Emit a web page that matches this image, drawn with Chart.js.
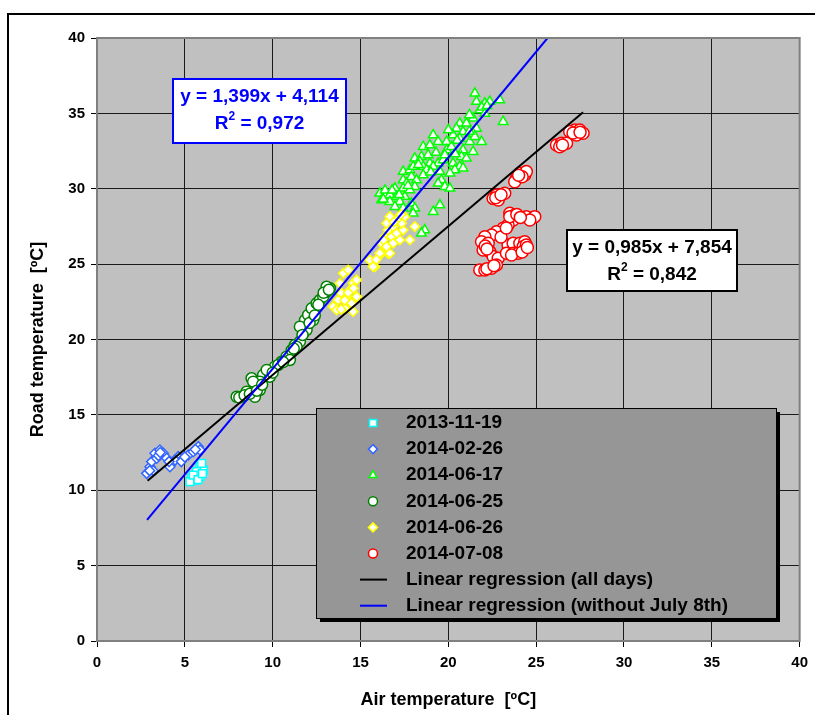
<!DOCTYPE html>
<html>
<head>
<meta charset="utf-8">
<script src="https://cdn.jsdelivr.net/npm/chart.js@4/dist/chart.umd.min.js"></script>
<style>
  html, body { margin: 0; padding: 0; background: #fff; }
  #wrap { width: 815px; height: 715px; }
</style>
</head>
<body>
<div id="wrap"><canvas id="c" width="815" height="715"></canvas></div>
<script>
// ---------- DATA ----------
const seriesLabels = ['2013-11-19', '2014-02-26', '2014-06-17', '2014-06-25', '2014-06-26', '2014-07-08'];
const lineLabels = ['Linear regression (all days)', 'Linear regression (without July 8th)'];
const xTicks = [0, 5, 10, 15, 20, 25, 30, 35, 40];
const yTicks = [0, 5, 10, 15, 20, 25, 30, 35, 40];

const d131119X = [5.86, 6.05, 5.58, 5.39, 5.86, 5.67, 5.29, 5.96, 5.48, 5.75, 6.0];
const d131119Y = [11.56, 11.34, 10.68, 10.79, 10.9, 11.23, 10.57, 11.79, 11.0, 10.7, 11.1];

const d140226X = [2.83, 3.02, 3.11, 3.30, 3.58, 3.77, 3.97, 4.25, 4.63, 4.91, 5.2, 5.48, 5.77, 5.86, 4.15, 3.40, 4.44, 3.2, 3.5, 4.8,
  3.0, 3.6, 4.1, 5.0, 5.6];
const d140226Y = [11.12, 11.56, 11.9, 12.45, 12.67, 12.45, 12.12, 11.79, 12.23, 12.12, 12.34, 12.56, 12.89, 12.67, 11.56, 12.12, 12.0, 11.3, 12.3, 11.9,
  11.3, 12.5, 11.9, 12.2, 12.7];

const d140617X = [21.51, 21.6, 22.08, 22.36, 22.93, 23.12, 21.79, 22.08, 21.41, 20.65, 21.03, 21.6, 20.46, 21.41, 20.84, 20.27, 20.65, 21.22, 21.89, 21.51,
  19.9, 19.14, 19.42, 18.57, 18.95, 19.9, 20.18, 20.84, 21.41, 20.75, 21.03, 18.09, 18.47, 18.85, 18.38, 18.95, 19.42, 19.71, 19.8, 20.27,
  20.65, 20.37, 20.84, 17.43, 17.81, 18.0, 18.57, 18.76, 19.14, 19.52, 20.09, 17.43, 17.9, 18.19, 18.57, 19.61, 19.42, 19.8, 20.09, 17.62,
  16.96, 17.43, 18.09, 16.1, 16.39, 16.67, 17.05, 17.52, 16.2, 16.67, 17.24, 17.9, 18.09, 16.96, 17.43, 19.52, 19.14, 18.0, 18.66, 18.47, 17.81,
  21.2, 21.9, 22.2, 20.0, 20.5, 19.3, 18.3, 17.7, 16.4, 16.8, 17.2, 20.4, 21.2, 16.3, 19.0];
const d140617Y = [36.33, 35.78, 35.67, 35.78, 35.89, 34.45, 35.22, 35.0, 34.67, 34.34, 34.34, 34.0, 34.0, 33.67, 33.78, 33.56, 33.34, 33.12, 33.12, 33.45,
  33.12, 33.56, 33.12, 32.79, 32.9, 32.57, 32.79, 32.57, 32.46, 32.13, 32.02, 32.02, 32.13, 32.24, 31.8, 31.69, 31.69, 31.91, 32.24, 31.69,
  31.47, 31.25, 31.36, 31.14, 31.25, 31.47, 31.47, 31.25, 31.47, 31.14, 31.03, 30.58, 30.8, 30.58, 30.91, 30.58, 30.36, 30.14, 30.03, 30.36,
  30.03, 30.03, 30.14, 29.7, 29.59, 29.59, 29.48, 29.48, 29.25, 29.14, 29.14, 29.03, 28.71, 28.81, 28.71, 28.92, 28.48, 28.37, 27.26, 27.04, 29.92,
  34.9, 35.4, 35.5, 33.9, 33.2, 32.4, 31.6, 30.2, 29.9, 29.9, 29.6, 32.3, 33.8, 29.3, 31.1];

const d140625X = [7.95, 8.23, 8.52, 8.80, 8.99, 9.27, 9.46, 9.84, 10.13, 10.51, 10.79, 11.08, 11.27, 11.55, 11.74, 11.93, 11.84, 12.02, 12.22, 12.5,
  12.69, 12.88, 13.07, 13.26, 13.07, 11.55, 11.36, 10.98, 10.32, 9.27, 8.89, 9.66, 12.31,
  8.1, 8.4, 8.7, 9.1, 9.4, 10.0, 10.6, 11.2, 11.7, 12.1, 12.6, 12.9, 13.2, 12.4];
const d140625Y = [16.2, 16.2, 16.54, 17.43, 16.2, 16.65, 17.65, 17.53, 18.2, 18.53, 18.86, 19.3, 19.64, 19.86, 20.41, 20.63, 21.29, 21.63, 22.07, 22.4,
  22.62, 22.84, 23.17, 23.4, 23.5, 20.85, 19.52, 18.64, 18.31, 17.2, 17.2, 17.98, 21.29,
  16.15, 16.3, 16.4, 16.6, 17.0, 17.8, 18.5, 19.4, 20.3, 21.1, 22.3, 23.1, 23.3, 21.6];

const d140626X = [14.02, 14.30, 14.58, 14.78, 13.45, 13.73, 13.92, 14.21, 14.49, 14.58, 14.11, 13.64, 13.83, 14.40, 14.78, 15.53, 15.82, 16.2, 16.57,
  15.72, 16.10, 16.2, 16.39, 16.67, 16.57, 16.48, 16.67, 16.86, 16.77, 17.05, 17.24, 17.43, 17.34, 17.05, 17.52, 17.81, 18.09, 16.48, 16.86,
  14.1, 14.3, 13.9, 14.6, 16.3, 16.9, 17.3, 15.9];
const d140626Y = [24.39, 24.61, 23.73, 23.95, 22.18, 22.62, 23.07, 22.84, 22.4, 21.85, 22.07, 21.96, 23.73, 23.28, 22.84, 25.27, 24.83, 25.72, 25.72,
  24.83, 25.72, 26.38, 26.82, 25.72, 27.26, 27.71, 28.15, 27.49, 26.82, 27.04, 26.6, 27.26, 27.71, 27.93, 28.15, 26.6, 27.49, 26.16, 26.38,
  22.6, 23.1, 22.0, 23.4, 26.6, 27.8, 28.3, 25.3];

const d140708X = [27.2, 27.48, 26.91, 27.67, 27.3, 26.16, 26.44, 26.73, 26.34, 24.07, 23.88, 24.35, 23.78, 24.44, 22.74, 22.55, 22.93, 23.21, 22.84,
  23.5, 23.78, 23.69, 24.44, 24.92, 24.64, 23.4, 23.12, 22.74, 22.46, 22.08, 21.89, 22.27, 21.98, 22.36, 22.55, 22.84, 21.79, 22.08, 22.46, 22.74,
  23.4, 23.69, 24.07, 24.35, 23.31, 23.69, 23.97, 24.26, 24.44, 23.5,
  27.1, 27.5, 26.5, 24.2, 24.0, 22.7, 23.0, 22.2, 22.6, 23.0, 23.3, 23.9, 24.1, 23.6, 24.2, 24.5, 22.1, 22.2];
const d140708Y = [33.9, 33.9, 33.79, 33.68, 33.56, 32.9, 33.02, 33.02, 32.79, 31.03, 30.69, 30.91, 30.47, 31.14, 29.59, 29.36, 29.48, 29.7, 29.25,
  28.37, 28.26, 27.93, 28.15, 28.15, 27.93, 27.6, 27.38, 27.15, 26.93, 26.82, 26.49, 26.38, 25.94, 25.83, 25.5, 25.39, 24.61, 24.61, 24.72, 24.94,
  26.27, 26.38, 26.38, 26.49, 25.72, 25.72, 25.72, 26.16, 26.27, 28.15,
  33.7, 33.75, 32.9, 30.8, 30.9, 29.4, 29.6, 24.7, 24.9, 26.8, 27.4, 28.3, 28.1, 25.6, 25.8, 26.1, 26.2, 26.0];

const regAllX = [2.88, 27.67];
const regAllY = [10.63, 35.07];
const regNoJulX = [2.85, 25.65];
const regNoJulY = [8.03, 40.0];

const eqAll = ['y = 0,985x + 7,854', '0,842'];
const eqNoJul = ['y = 1,399x + 4,114', '0,972'];

// ---------- BUILD ----------
function pts(xs, ys) { return xs.map((x, i) => ({ x: x, y: ys[i] })); }

const markerStyles = [
  { pointStyle: 'rect', radius: 5.5, color: '#00ffff', legendR: 5 },
  { pointStyle: 'rectRot', radius: 5, color: '#3366ff', legendR: 4.5 },
  { pointStyle: 'triangle', radius: 5.5, color: '#00ff00', legendR: 4.5 },
  { pointStyle: 'circle', radius: 5.5, color: '#008000', legendR: 4.5 },
  { pointStyle: 'rectRot', radius: 4.8, color: '#ffff00', legendR: 4.5 },
  { pointStyle: 'circle', radius: 6, color: '#ff0000', legendR: 4.5 }
];
const seriesData = [
  pts(d131119X, d131119Y), pts(d140226X, d140226Y), pts(d140617X, d140617Y),
  pts(d140625X, d140625Y), pts(d140626X, d140626Y), pts(d140708X, d140708Y)
];
const lineColors = ['#000000', '#0000ff'];

const datasets = [];
seriesData.forEach((d, i) => {
  const m = markerStyles[i];
  datasets.push({
    label: seriesLabels[i], data: d, showLine: false,
    pointStyle: m.pointStyle, pointRadius: m.radius, pointHoverRadius: m.radius,
    pointBackgroundColor: '#ffffff', pointBorderColor: m.color, pointBorderWidth: 1.5,
    order: 10 - i
  });
});
datasets.push({ label: lineLabels[0], data: pts(regAllX, regAllY), showLine: true, borderColor: lineColors[0], borderWidth: 2, pointRadius: 0, order: 1 });
datasets.push({ label: lineLabels[1], data: pts(regNoJulX, regNoJulY), showLine: true, borderColor: lineColors[1], borderWidth: 2, pointRadius: 0, order: 0 });

const FONT = "'Liberation Sans', Arial, sans-serif";

const decorPlugin = {
  id: 'decor',
  beforeDraw(chart) {
    const ctx = chart.ctx, a = chart.chartArea;
    ctx.save();
    ctx.fillStyle = '#ffffff';
    ctx.fillRect(0, 0, chart.width, chart.height);
    ctx.fillStyle = '#c0c0c0';
    ctx.fillRect(a.left, a.top, a.right - a.left, a.bottom - a.top);
    ctx.restore();
  },
  afterDraw(chart) {
    const ctx = chart.ctx, a = chart.chartArea;
    ctx.save();
    ctx.strokeStyle = '#808080';
    ctx.lineWidth = 2;
    ctx.strokeRect(a.left, a.top, a.right - a.left, a.bottom - a.top);
    ctx.strokeStyle = '#000000';
    ctx.lineWidth = 2;
    ctx.strokeRect(8, 14, 830, 730);

    function eqBox(x0, y0, x1, y1, color, lines) {
      ctx.fillStyle = '#ffffff';
      ctx.fillRect(x0, y0, x1 - x0, y1 - y0);
      ctx.strokeStyle = color;
      ctx.lineWidth = 2;
      ctx.strokeRect(x0, y0, x1 - x0, y1 - y0);
      const cx = (x0 + x1) / 2;
      ctx.fillStyle = color;
      ctx.textBaseline = 'middle';
      ctx.textAlign = 'center';
      ctx.font = 'bold 19px ' + FONT;
      ctx.fillText(lines[0], cx, y0 + 18);
      const yy = y0 + 45;
      const partR = 'R', part2 = '2', rest = ' = ' + lines[1];
      ctx.font = 'bold 19px ' + FONT;
      const wR = ctx.measureText(partR).width, wRest = ctx.measureText(rest).width;
      ctx.font = 'bold 12px ' + FONT;
      const w2 = ctx.measureText(part2).width;
      const total = wR + w2 + wRest;
      const sx = cx - total / 2;
      ctx.textAlign = 'left';
      ctx.font = 'bold 19px ' + FONT;
      ctx.fillText(partR, sx, yy);
      ctx.font = 'bold 12px ' + FONT;
      ctx.fillText(part2, sx + wR, yy - 7);
      ctx.font = 'bold 19px ' + FONT;
      ctx.fillText(rest, sx + wR + w2, yy);
    }
    eqBox(173, 79, 346, 143, '#0000ff', eqNoJul);
    eqBox(567, 230, 737, 291, '#000000', eqAll);

    const lx0 = 316, ly0 = 408, lx1 = 776, ly1 = 618;
    ctx.fillStyle = '#000000';
    ctx.fillRect(lx0 + 4, ly0 + 4, lx1 - lx0, ly1 - ly0);
    ctx.fillStyle = '#969696';
    ctx.fillRect(lx0, ly0, lx1 - lx0, ly1 - ly0);
    ctx.strokeStyle = '#000000';
    ctx.lineWidth = 1;
    ctx.strokeRect(lx0 + 0.5, ly0 + 0.5, lx1 - lx0, ly1 - ly0);

    const rowY0 = 423, rowDY = 26.1, mx = 373, tx = 406;
    ctx.font = 'bold 19px ' + FONT;
    ctx.textAlign = 'left';
    ctx.textBaseline = 'middle';
    seriesLabels.forEach((lab, i) => {
      const y = rowY0 + i * rowDY;
      const m = markerStyles[i];
      ctx.fillStyle = '#ffffff';
      ctx.strokeStyle = m.color;
      ctx.lineWidth = 1.5;
      Chart.helpers.drawPoint(ctx, { pointStyle: m.pointStyle, radius: m.legendR, rotation: 0, borderWidth: 1.5 }, mx, y);
      ctx.fillStyle = '#000000';
      ctx.fillText(lab, tx, y);
    });
    lineLabels.forEach((lab, j) => {
      const y = rowY0 + (6 + j) * rowDY;
      ctx.strokeStyle = lineColors[j];
      ctx.lineWidth = 2;
      ctx.beginPath();
      ctx.moveTo(360, y);
      ctx.lineTo(387, y);
      ctx.stroke();
      ctx.fillStyle = '#000000';
      ctx.fillText(lab, tx, y);
    });
    ctx.restore();
  }
};

const tickFont = { family: FONT, size: 15, weight: 'bold' };
const titleFont = { family: FONT, size: 18, weight: 'bold' };

new Chart(document.getElementById('c'), {
  type: 'scatter',
  data: { datasets: datasets },
  options: {
    responsive: false,
    animation: false,
    layout: { padding: { left: 0, top: 38, right: 15, bottom: 0 } },
    plugins: { legend: { display: false }, tooltip: { enabled: false } },
    scales: {
      x: {
        type: 'linear', min: 0, max: 40,
        afterBuildTicks: (s) => { s.ticks = xTicks.map(v => ({ value: v })); },
        afterFit: (s) => { s.height = 74; },
        ticks: { font: tickFont, color: '#000', padding: 7, maxRotation: 0 },
        grid: { color: '#1a1a1a', lineWidth: 1, tickLength: 6, tickColor: '#000' },
        border: { color: '#000', width: 1 },
        title: { display: true, text: 'Air temperature  [ºC]', font: titleFont, color: '#000', padding: { top: 0, bottom: 4 } }
      },
      y: {
        type: 'linear', min: 0, max: 40,
        afterBuildTicks: (s) => { s.ticks = yTicks.map(v => ({ value: v })); },
        afterFit: (s) => { s.width = 97; },
        ticks: { font: tickFont, color: '#000', padding: 6 },
        grid: { color: '#1a1a1a', lineWidth: 1, tickLength: 6, tickColor: '#000' },
        border: { color: '#000', width: 1 },
        title: { display: true, text: 'Road temperature  [ºC]', font: titleFont, color: '#000', padding: { top: 27, bottom: 0 } }
      }
    }
  },
  plugins: [decorPlugin]
});
</script>
</body>
</html>
